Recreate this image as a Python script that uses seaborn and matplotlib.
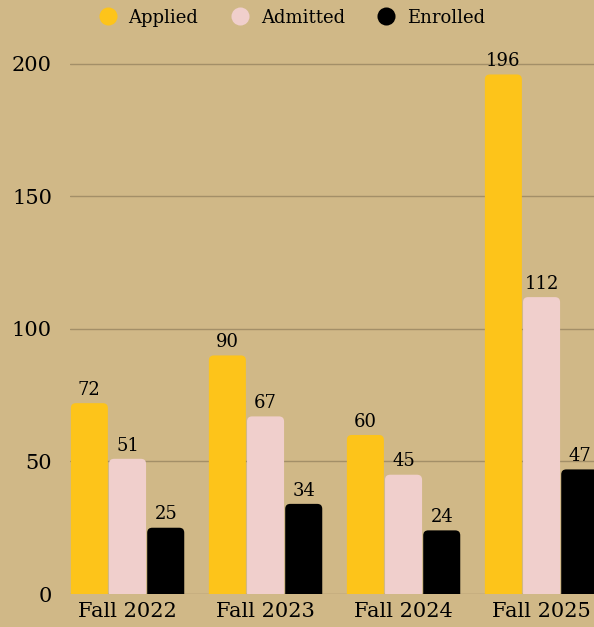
import pandas as pd
import matplotlib.pyplot as plt
import seaborn as sns
from matplotlib.patches import FancyBboxPatch
from matplotlib.lines import Line2D

terms = ["Fall 2022", "Fall 2023", "Fall 2024", "Fall 2025"]
applied = [72, 90, 60, 196]
admitted = [51, 67, 45, 112]
enrolled = [25, 34, 24, 47]
series = ["Applied", "Admitted", "Enrolled"]
colors = ["#FDC41A", "#F0CFCC", "#000000"]

bg = "#D0B887"
grid_c = "#A38F68"

df = pd.DataFrame({
    "term": terms * 3,
    "series": ["Applied"] * 4 + ["Admitted"] * 4 + ["Enrolled"] * 4,
    "value": applied + admitted + enrolled,
})

sns.set_theme(style="white")
plt.rcParams["font.family"] = ["DejaVu Serif"]

fig = plt.figure(figsize=(5.94, 6.27), dpi=100, facecolor=bg)
ax = fig.add_axes([70 / 594, 33 / 627, 524 / 594, 554 / 627], facecolor=bg)

sns.barplot(data=df, x="term", y="value", hue="series", order=terms,
            hue_order=series, palette=colors, width=0.83, gap=0.03,
            ax=ax, legend=False, saturation=1)

# swap rectangles for rounded bars (bottom corners hidden below zero)
px_x = 1 / 138
px_y = 200 / 530
r = 5
for p in list(ax.patches):
    x, w, h = p.get_x(), p.get_width(), p.get_height()
    fc = p.get_facecolor()
    p.remove()
    bar = FancyBboxPatch((x, -r * px_y * 2), w, h + r * px_y * 2,
                         boxstyle=f"round,pad=0,rounding_size={r * px_x}",
                         mutation_aspect=px_y / px_x,
                         facecolor=fc, edgecolor="none", zorder=2)
    ax.add_patch(bar)
    ax.text(x + w / 2, h + 1.6, f"{int(h)}", ha="center", va="bottom",
            fontsize=13, color="black", zorder=3)

ax.set_xlim(-0.417, 3.38)
ax.set_ylim(0, 209)
ax.set_yticks([0, 50, 100, 150, 200])
ax.yaxis.grid(True, color=grid_c, linewidth=1)
ax.set_axisbelow(True)
for s in ax.spines.values():
    s.set_visible(False)
ax.set_xlabel("")
ax.set_ylabel("")
ax.tick_params(axis="y", length=0, pad=13, labelsize=15, labelcolor="black")
ax.tick_params(axis="x", length=0, pad=6, labelsize=15, labelcolor="black")

handles = [Line2D([0], [0], marker="o", linestyle="", markersize=13,
                  markerfacecolor=c, markeredgecolor="none") for c in colors]
fig.legend(handles, series, loc="upper center", ncol=3, frameon=False,
           bbox_to_anchor=(0.484, 1.012), fontsize=13, columnspacing=1.3,
           handletextpad=0.15, labelcolor="black")

fig.savefig("out.png", dpi=100, facecolor=bg)
